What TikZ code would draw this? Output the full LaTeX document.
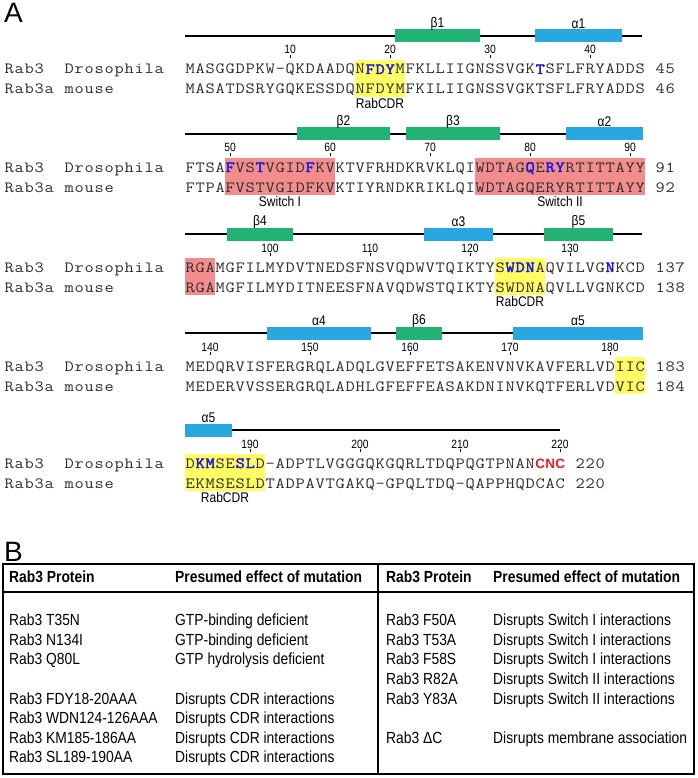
\documentclass[tikz,border=0pt]{standalone}
\usepackage{fontspec}
\setmainfont{Liberation Sans}
\setsansfont{Liberation Sans}
\newfontfamily\seqfont[FakeStretch=1.15, BoldFont={Latin Modern Mono}, BoldFeatures={FakeBold=2.5}]{Latin Modern Mono}
\newfontfamily\narrowfont[FakeStretch=0.86]{Liberation Sans}
\definecolor{hlyellow}{RGB}{255,252,100}
\definecolor{hlpink}{RGB}{243,141,141}
\definecolor{bargreen}{RGB}{34,178,116}
\definecolor{barblue}{RGB}{40,168,224}
\definecolor{resblue}{RGB}{28,28,215}
\definecolor{resred}{RGB}{232,28,36}
\definecolor{seqgray}{RGB}{45,45,45}
% fixed-pitch sequence typesetting: every token in a 10pt cell
\def\sqend{\sqend}
\def\SqB{\color{resblue}\bfseries}
\def\SqN{\color{seqgray}\mdseries}
\def\SqR{\color{resred}\sffamily\bfseries\fontsize{13.5}{14}\selectfont}
\def\sqloop#1{\ifx\sqend#1\else\ifx\SqB#1\SqB\else\ifx\SqN#1\SqN\else\ifx\SqR#1\SqR\else\makebox[10pt][c]{#1}\fi\fi\fi\expandafter\sqloop\fi}
\newcommand\sq[1]{\sqloop#1\sqend}
% highlight: colour, first char, last char, baseline
\newcommand\hlbox[4]{\fill[#1] ({185+(#2-1)*10},{#4-14}) rectangle ({185+#3*10},{#4+23});}
% residue number: char index, label, baseline
\newcommand\resnum[3]{\node[num] (n#2) at ({185+(#1-0.5)*10},{#3-20}) {#2};
  \draw[tickline] ({185+(#1-0.5)*10},{#3-18.6}) -- ({185+(#1-0.5)*10},{#3-16.2});}
% structure bar: name, x1, x2, baseline, colour, label
\newcommand\sbar[6]{\fill[#5] (#2,{#4-44.5}) rectangle (#3,{#4-31.5});
  \node[sslabel] (#1) at ({(#2+#3)/2},{#4-50}) {#6};}
\newcommand\sline[3]{\draw[strline] (#1,{#3-38}) -- (#2,{#3-38});}
% alignment rows: name, baseline, dros, mouse, dros num, mouse num, num x
\newcommand\seqblock[7]{%
  \node[seq] (#1d) at (4,#2) {\sq{Rab3~~Drosophila}};
  \node[seq] (#1m) at (4,{#2+20}) {\sq{Rab3a~mouse}};
  \node[seq] (#1ds) at (185,#2) {\sq{#3}};
  \node[seq] (#1ms) at (185,{#2+20}) {\sq{#4}};
  \node[seq] (#1dn) at (#7,#2) {\sq{#5}};
  \node[seq] (#1mn) at (#7,{#2+20}) {\sq{#6}};}
\newcommand\under[4]{\node[reglabel] (#1) at (#2,{#3+29}) {#4};}
\begin{document}
\begin{tikzpicture}[x=1pt,y=-1pt,
  seq/.style={anchor=base west, inner sep=0pt, font=\seqfont\fontsize{15.6}{20}\selectfont, text=seqgray},
  num/.style={anchor=base, inner sep=0pt, font=\narrowfont\fontsize{12}{12}\selectfont},
  tickline/.style={line width=0.8pt},
  sslabel/.style={anchor=center, inner sep=0pt, font=\narrowfont\fontsize{14}{14}\selectfont},
  reglabel/.style={anchor=center, inner sep=0pt, font=\narrowfont\fontsize{14}{14}\selectfont},
  strline/.style={line width=1.2pt},
  panel/.style={anchor=base west, inner sep=0pt, font=\sffamily\fontsize{28}{28}\selectfont},
  tab/.style={anchor=base west, inner sep=0pt, font=\narrowfont\fontsize{16.1}{16}\selectfont},
  tabh/.style={anchor=base west, inner sep=0pt, font=\narrowfont\fontsize{16.1}{16}\bfseries\selectfont},
  tabline/.style={line width=1.2pt}]
\useasboundingbox (0,0) rectangle (697,778);
\node[panel] (pA) at (4,23) {A};
% ---------- block 1
\sline{185}{642}{74}
\sbar{b1}{395}{480}{74}{bargreen}{β1}
\sbar{a1}{535}{622}{74}{barblue}{α1}
\hlbox{hlyellow}{18}{22}{74}
\resnum{11}{10}{74}\resnum{21}{20}{74}\resnum{31}{30}{74}\resnum{41}{40}{74}
\seqblock{r1}{74}{MASGGDPKW-QKDAADQN\SqB FDY\SqN MFKLLIIGNSSVGK\SqB T\SqN SFLFRYADDS}{MASATDSRYGQKESSDQNFDYMFKILIIGNSSVGKTSFLFRYADDS}{45}{46}{655}
\under{cdr1}{380}{74}{RabCDR}
% ---------- block 2
\sline{185}{643}{172}
\sbar{b2}{297}{390}{172}{bargreen}{β2}
\sbar{b3}{406}{500}{172}{bargreen}{β3}
\sbar{a2}{566}{643}{172}{barblue}{α2}
\hlbox{hlpink}{5}{15}{172}\hlbox{hlpink}{30}{46}{172}
\resnum{5}{50}{172}\resnum{15}{60}{172}\resnum{25}{70}{172}\resnum{35}{80}{172}\resnum{45}{90}{172}
\seqblock{r2}{172}{FTSA\SqB F\SqN VS\SqB T\SqN VGID\SqB F\SqN KVKTVFRHDKRVKLQIWDTAG\SqB Q\SqN E\SqB RY\SqN RTITTAYY}{FTPAFVSTVGIDFKVKTIYRNDKRIKLQIWDTAGQERYRTITTAYY}{91}{92}{655}
\under{sw1}{280}{172}{Switch I}
\under{sw2}{560}{172}{Switch II}
% ---------- block 3
\sline{185}{642}{272}
\sbar{b4}{227}{293}{272}{bargreen}{β4}
\sbar{a3}{424}{493}{272}{barblue}{α3}
\sbar{b5}{544}{613}{272}{bargreen}{β5}
\hlbox{hlpink}{1}{3}{272}\hlbox{hlyellow}{32}{36}{272}
\resnum{9}{100}{272}\resnum{19}{110}{272}\resnum{29}{120}{272}\resnum{39}{130}{272}
\seqblock{r3}{272}{RGAMGFILMYDVTNEDSFNSVQDWVTQIKTYS\SqB WDN\SqN AQVILVG\SqB N\SqN KCD}{RGAMGFILMYDITNEESFNAVQDWSTQIKTYSWDNAQVLLVGNKCD}{137}{138}{655}
\under{cdr2}{520}{272}{RabCDR}
% ---------- block 4
\sline{185}{643}{371}
\sbar{a4}{267}{371}{371}{barblue}{α4}
\sbar{b6}{396}{442}{371}{bargreen}{β6}
\sbar{a5}{513}{643}{371}{barblue}{α5}
\hlbox{hlyellow}{44}{46}{371}
\resnum{3}{140}{371}\resnum{13}{150}{371}\resnum{23}{160}{371}\resnum{33}{170}{371}\resnum{43}{180}{371}
\seqblock{r4}{371}{MEDQRVISFERGRQLADQLGVEFFETSAKENVNVKAVFERLVDIIC}{MEDERVVSSERGRQLADHLGFEFFEASAKDNINVKQTFERLVDVIC}{183}{184}{655}
% ---------- block 5
\sline{185}{560}{468}
\sbar{a5b}{185}{232}{468}{barblue}{α5}
\hlbox{hlyellow}{1}{8}{468}
\resnum{7}{190}{468}\resnum{18}{200}{468}\resnum{28}{210}{468}\resnum{38}{220}{468}
\seqblock{r5}{468}{D\SqB KM\SqN SE\SqB SL\SqN D-ADPTLVGGGQKGQRLTDQPQGTPNAN\SqR CNC}{EKMSESLDTADPAVTGAKQ-GPQLTDQ-QAPPHQDCAC}{220}{220}{575}
\under{cdr3}{225}{468}{RabCDR}
% ---------- panel B
\node[panel] (pB) at (4,561) {B};
\draw[tabline] (3,564) rectangle (694,774);
\draw[tabline] (3,592) -- (694,592);
\draw[tabline] (378,564) -- (378,774);
\node[tabh] (h1) at (9,582) {Rab3 Protein};
\node[tabh] (h2) at (175,582) {Presumed effect of mutation};
\node[tabh] (h3) at (386,582) {Rab3 Protein};
\node[tabh] (h4) at (493,582) {Presumed effect of mutation};
\foreach \k/\p/\e in {0/Rab3 T35N/GTP-binding deficient,
  1/Rab3 N134I/GTP-binding deficient,
  2/Rab3 Q80L/GTP hydrolysis deficient,
  4/Rab3 FDY18-20AAA/Disrupts CDR interactions,
  5/Rab3 WDN124-126AAA/Disrupts CDR interactions,
  6/Rab3 KM185-186AA/Disrupts CDR interactions,
  7/Rab3 SL189-190AA/Disrupts CDR interactions}{
  \node[tab] (lp\k) at (9,{625.7+19.6*\k}) {\p};
  \node[tab] (le\k) at (175,{625.7+19.6*\k}) {\e};}
\foreach \k/\p/\e in {0/Rab3 F50A/Disrupts Switch I interactions,
  1/Rab3 T53A/Disrupts Switch I interactions,
  2/Rab3 F58S/Disrupts Switch I interactions,
  3/Rab3 R82A/Disrupts Switch II interactions,
  4/Rab3 Y83A/Disrupts Switch II interactions,
  6/Rab3 ΔC/Disrupts membrane association}{
  \node[tab] (rp\k) at (386,{625.7+19.6*\k}) {\p};
  \node[tab] (re\k) at (493,{625.7+19.6*\k}) {\e};}
\end{tikzpicture}
\end{document}
